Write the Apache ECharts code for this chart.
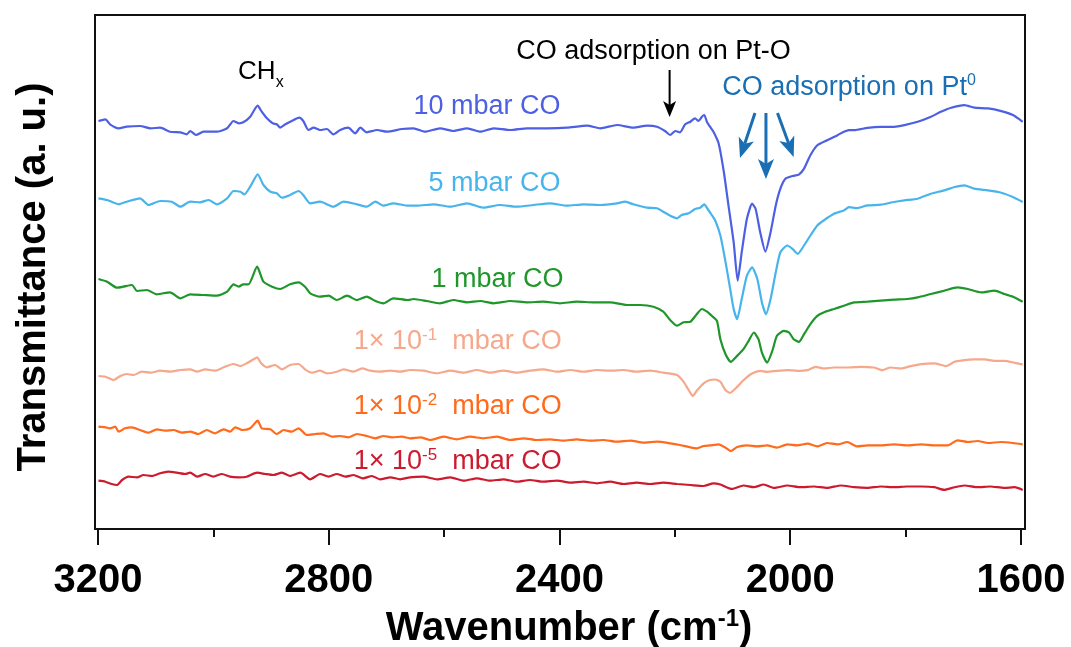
<!DOCTYPE html>
<html>
<head>
<meta charset="utf-8">
<title>CO adsorption IR spectra</title>
<script src="https://cdn.jsdelivr.net/npm/echarts@6/dist/echarts.min.js"></script>
<style>
  html, body { margin: 0; padding: 0; background: #ffffff; }
  #chart { width: 1071px; height: 647px; }
</style>
</head>
<body>
<div id="chart"></div>
<script>
// Spectra: [wavenumber (cm-1), transmittance (a. u., stacked offset)]
const co10mbar = [[3199,408],[3187,409.7],[3179,404.7],[3164,400.7],[3150,402.3],[3127,403],[3109,400.7],[3092,401.3],[3075,397.3],[3057,396.7],[3046,394.7],[3040,398],[3030,394],[3017,397.3],[2994,397.3],[2976,400.7],[2965,408],[2956,405.7],[2948,406.7],[2936,412.3],[2923,423.3],[2916,417.3],[2907,410.7],[2897,405.7],[2890,404.7],[2884,401.3],[2875,404.7],[2864,408],[2851,411.3],[2844,408],[2835,399],[2826,401.3],[2815,399],[2803,400],[2792,394.7],[2780,399],[2766,401.3],[2754,395.7],[2745,401.3],[2734,396.7],[2716,399],[2699,397.3],[2673,400],[2653,400.7],[2633,397.3],[2607,400.7],[2584,398],[2560,400.7],[2537,397.3],[2514,400.7],[2485,399],[2456,400.7],[2422,400.7],[2387,401.3],[2352,403.3],[2329,400.7],[2300,404],[2272,401.3],[2248,403.3],[2231,402.3],[2217,398],[2208,394],[2199,398],[2191,396.7],[2182,404.7],[2173,407.3],[2165,410.7],[2159,408],[2153,412.3],[2149,414],[2144,406.7],[2139,402.3],[2133,397.2],[2124,385.5],[2115,357],[2107,323.6],[2098,286.8],[2091,248.4],[2084,276.8],[2075,310.2],[2066,325.3],[2060,320.3],[2052,296.8],[2043,277.4],[2034,296.8],[2025,323.6],[2017,340.3],[2008,350.4],[1996,353],[1985,354.4],[1976,360.4],[1965,373.8],[1953,383.8],[1936,388.8],[1918,393.8],[1907,397.2],[1898,398.8],[1889,398.8],[1866,401.2],[1843,402.2],[1820,402.2],[1802,403.9],[1779,407.2],[1756,412.2],[1739,417.2],[1721,421.3],[1698,423.9],[1681,421.3],[1657,420.6],[1634,417.9],[1614,413.9],[1597,407.2]];

const co5mbar = [[3199,330.7],[3184,329],[3164,324.7],[3150,327.3],[3127,330.7],[3112,324],[3092,328],[3072,327.3],[3057,322.3],[3040,327.3],[3023,326.7],[3008,329],[2994,324.7],[2976,330.7],[2965,338],[2953,337.3],[2946,334.7],[2936,342.3],[2923,354.7],[2913,344],[2901,337.3],[2890,335.7],[2881,331.3],[2867,334],[2852,338],[2844,334],[2832,325.7],[2815,327.3],[2792,322.3],[2774,327.3],[2751,324.7],[2734,322.3],[2719,327.3],[2705,323.3],[2688,325.7],[2662,323.3],[2647,323.3],[2618,324.7],[2589,322.3],[2560,325.7],[2532,321.3],[2503,324],[2474,322.3],[2445,324],[2416,325.7],[2387,323.3],[2358,324.7],[2329,324],[2300,325.7],[2286,327.3],[2272,324.7],[2248,321.3],[2231,320.7],[2220,317.3],[2208,313.3],[2196,310.7],[2188,314],[2176,315.7],[2165,320],[2156,321.3],[2149,324.7],[2143,320],[2136,314],[2130,308.5],[2121,293.5],[2112,266.7],[2104,240],[2098,220],[2092,209.9],[2084,230],[2075,253.4],[2066,261.7],[2057,250],[2049,226.6],[2042,214.9],[2034,230],[2025,256.7],[2017,276.8],[2005,283.5],[1996,280.1],[1987,275.1],[1976,283.5],[1965,293.5],[1953,303.5],[1942,308.5],[1924,315.2],[1907,318.6],[1898,321.9],[1884,320.9],[1866,323.6],[1843,324.3],[1820,327],[1802,328.6],[1779,330.3],[1756,335.3],[1733,338.6],[1715,342],[1698,343.7],[1681,340.3],[1657,338.6],[1634,336.3],[1614,332],[1597,327]];

const co1mbar = [[3199,250],[3184,247.3],[3167,241.3],[3156,242.3],[3141,244],[3132,238],[3115,239],[3098,234.7],[3075,236.7],[3057,230.7],[3040,234.7],[3017,234],[2994,233.3],[2976,237.3],[2965,244.7],[2956,242.3],[2948,244.7],[2939,244.7],[2924,262.3],[2913,247.3],[2898,242.3],[2884,240],[2867,244.7],[2852,246.7],[2841,242.3],[2832,235.7],[2815,232.3],[2800,233.3],[2786,229],[2768,233.3],[2751,229],[2734,232.3],[2719,228],[2705,225.7],[2688,230.7],[2662,229],[2653,230],[2630,228],[2607,225.7],[2584,229],[2560,226.7],[2537,228],[2514,225.7],[2485,228],[2456,226.7],[2428,227.3],[2399,225.7],[2370,227.3],[2341,226.7],[2312,226.7],[2283,224],[2260,224],[2237,222.3],[2220,217.3],[2208,209],[2196,203.3],[2185,206.7],[2173,207.3],[2163,214],[2153,220],[2144,217.3],[2136,213.2],[2127,208.2],[2121,189.8],[2112,174.8],[2103,167.1],[2092,173.1],[2081,179.8],[2072,188.2],[2063,196.5],[2055,189.8],[2049,176.4],[2040,166.4],[2031,178.1],[2023,193.2],[2011,198.2],[2002,196.5],[1994,189.8],[1985,187.1],[1976,194.8],[1965,204.9],[1953,213.2],[1942,216.6],[1924,220],[1907,223.3],[1889,226.6],[1866,227.3],[1843,228.3],[1820,229.3],[1797,230],[1779,231.6],[1756,235],[1733,238.3],[1710,241.6],[1692,240],[1669,236.6],[1646,238.3],[1629,235],[1611,231.6],[1597,227.3]];

const co1e1mbar = [[3199,153],[3187,152.3],[3173,149],[3161,153],[3150,155],[3138,154],[3124,157.3],[3109,156.3],[3092,158.3],[3075,157.3],[3057,159],[3040,159.7],[3028,157.3],[3014,159.7],[2997,158.3],[2982,161.7],[2965,165],[2953,163],[2942,165.7],[2930,169.7],[2924,171.7],[2917,165.7],[2907,161.7],[2893,164],[2881,159.7],[2867,164],[2852,165],[2841,159.7],[2829,156.3],[2815,158.3],[2803,155.7],[2786,157.3],[2774,159.7],[2757,157.3],[2742,160.7],[2728,158.3],[2711,157.3],[2693,158.3],[2676,157.3],[2659,159],[2636,158.3],[2612,155.7],[2589,158.3],[2566,156.3],[2543,159],[2520,156.3],[2497,158.3],[2474,156.3],[2451,158.3],[2428,159.7],[2404,157.3],[2381,159],[2358,157.3],[2335,159],[2312,158.3],[2289,159],[2266,157.3],[2243,158.3],[2220,156.3],[2196,154],[2185,147.3],[2176,139],[2169,133],[2161,139],[2150,145.7],[2139,149],[2130,149.5],[2121,147.2],[2112,138.8],[2104,136.1],[2092,142.1],[2081,148.8],[2066,155.5],[2052,158.2],[2040,157.2],[2023,158.2],[2005,158.9],[1988,158.2],[1970,158.9],[1956,162.2],[1942,160.5],[1924,161.5],[1901,161.5],[1878,162.2],[1855,161.5],[1840,158.9],[1826,161.5],[1808,160.5],[1791,162.9],[1773,164.9],[1750,165.6],[1730,162.9],[1715,167.2],[1698,168.9],[1681,169.6],[1663,169.6],[1646,168.2],[1629,168.2],[1611,166.2],[1597,164.6]];

const co1e2mbar = [[3199,102.3],[3187,101.7],[3179,100.7],[3170,102.3],[3164,97.3],[3153,100.7],[3141,101.7],[3127,99],[3112,96.3],[3098,99.7],[3083,98.3],[3069,99],[3054,96.3],[3040,97.3],[3026,95],[3011,99],[2997,95.7],[2982,99.7],[2971,97.3],[2962,101.7],[2950,99],[2936,100.7],[2923,108.3],[2916,100.7],[2901,99.7],[2890,95],[2878,99],[2864,97.3],[2852,100.7],[2838,94],[2823,95],[2809,95.7],[2794,92.3],[2780,93],[2766,91.7],[2751,95],[2734,93],[2719,90.7],[2705,93],[2690,91.7],[2673,92.3],[2659,90.7],[2641,91.7],[2624,89],[2601,92.3],[2578,89.7],[2555,92.3],[2532,90.7],[2508,92.3],[2485,89],[2462,90.7],[2439,89],[2416,89.7],[2393,88.3],[2370,89.7],[2347,88.3],[2324,89],[2300,87.3],[2277,88.3],[2254,86.3],[2231,87.3],[2208,85.7],[2191,84],[2173,81.7],[2162,80.7],[2150,83],[2139,83.6],[2124,84.6],[2112,81.3],[2103,77.9],[2092,82],[2075,83.6],[2057,82.6],[2040,83.6],[2023,81.3],[2005,84.6],[1988,83.6],[1970,85.3],[1953,82.6],[1936,86],[1918,84.6],[1901,87],[1884,82.6],[1866,83.6],[1843,83.6],[1820,84.6],[1797,83.6],[1773,84.6],[1750,83.6],[1727,83.6],[1710,88.6],[1692,87],[1675,88],[1657,86],[1634,87],[1614,86],[1597,84.6]];

const co1e5mbar = [[3199,48.3],[3187,47.3],[3176,45],[3167,44],[3158,49],[3147,52.3],[3132,51.7],[3121,54],[3106,53],[3092,55.7],[3078,57.3],[3063,56.3],[3049,55],[3040,56.3],[3028,52.3],[3014,55],[3000,52.3],[2985,55],[2971,52.3],[2956,51.7],[2942,52.3],[2924,56.3],[2910,55],[2896,54],[2881,56.3],[2867,53],[2849,56.3],[2832,49.7],[2815,55],[2800,52.3],[2786,55],[2771,52.3],[2757,54],[2740,50.7],[2725,53],[2711,49.7],[2693,51.7],[2676,49.7],[2659,51.7],[2636,52.3],[2612,49.7],[2589,51.7],[2566,48.3],[2543,50.7],[2520,48.3],[2497,49.7],[2474,47.3],[2451,49],[2428,47.3],[2404,48.3],[2381,46.3],[2358,47.3],[2335,45.7],[2312,47.3],[2289,45],[2266,46.3],[2243,45],[2220,46.3],[2196,45],[2173,44],[2150,43],[2133,45.7],[2121,44.5],[2101,40.1],[2081,43.5],[2063,41.8],[2046,44.5],[2028,41.1],[2005,43.5],[1982,41.8],[1959,42.5],[1936,41.1],[1912,43.5],[1889,41.8],[1866,41.1],[1843,42.5],[1820,41.8],[1797,42.5],[1773,42.5],[1750,41.8],[1733,39.1],[1715,41.8],[1698,43.5],[1675,41.8],[1653,42.5],[1629,41.1],[1611,41.8],[1597,39.1]];

// Axis tick values
const majorTicks = [1600, 2000, 2400, 2800, 3200];
const minorTicks = [1800, 2200, 2600, 3000];

const FONT = '"Liberation Sans", Arial, Helvetica, sans-serif';
const INK = '#111111';

const curves = [
  { name: '10 mbar CO',     data: co10mbar,  color: '#4d5fe2', label: '10 mbar CO',                  at: [2398, 422] },
  { name: '5 mbar CO',      data: co5mbar,   color: '#48b4ec', label: '5 mbar CO',                   at: [2398, 345] },
  { name: '1 mbar CO',      data: co1mbar,   color: '#1f962a', label: '1 mbar CO',                   at: [2393, 249] },
  { name: '1e-1 mbar CO',   data: co1e1mbar, color: '#f5a88c', label: '1× 10{sup|-1}  mbar CO',      at: [2396, 187] },
  { name: '1e-2 mbar CO',   data: co1e2mbar, color: '#ff6a1c', label: '1× 10{sup|-2}  mbar CO',      at: [2396, 122] },
  { name: '1e-5 mbar CO',   data: co1e5mbar, color: '#cc1a2e', label: '1× 10{sup|-5}  mbar CO',      at: [2396, 67] }
];

const chart = echarts.init(document.getElementById('chart'), null, { renderer: 'canvas' });

const option = {
  animation: false,
  backgroundColor: '#ffffff',
  grid: {
    left: 95, right: 46, top: 15, bottom: 118,
    show: true, borderColor: INK, borderWidth: 2, backgroundColor: 'transparent'
  },
  xAxis: [
    {
      type: 'value', inverse: true, min: 1593, max: 3205, position: 'bottom',
      axisLine: { show: false },
      splitLine: { show: false },
      axisTick: { show: true, inside: false, length: 16, customValues: majorTicks,
                  lineStyle: { color: INK, width: 2 } },
      axisLabel: { show: true, customValues: majorTicks, margin: 32,
                   fontFamily: FONT, fontWeight: 'bold', fontSize: 40, color: '#000',
                   formatter: v => String(v) }
    },
    {
      type: 'value', inverse: true, min: 1593, max: 3205, position: 'bottom',
      axisLine: { show: false },
      splitLine: { show: false },
      axisLabel: { show: false },
      axisTick: { show: true, inside: false, length: 8, customValues: minorTicks,
                  lineStyle: { color: INK, width: 2 } }
    }
  ],
  yAxis: {
    type: 'value', min: 0, max: 514,
    axisLine: { show: false }, axisTick: { show: false },
    axisLabel: { show: false }, splitLine: { show: false }
  },
  series: curves.map(c => ({
    name: c.name,
    type: 'line',
    data: c.data,
    showSymbol: false,
    symbol: 'none',
    smooth: 0.2,
    lineStyle: { color: c.color, width: 2.2 },
    itemStyle: { color: c.color },
    z: 2
  }))
};

chart.setOption(option);

const toPx = (w, v) => chart.convertToPixel({ seriesIndex: 0 }, [w, v]);

const supStyle = (size, color, bold) => ({
  fontSize: size, lineHeight: size, verticalAlign: 'top',
  fontFamily: FONT, fontWeight: bold ? 'bold' : 'normal', fill: color
});

const textEl = (w, v, text, opts) => {
  const p = toPx(w, v);
  return {
    type: 'text', x: p[0], y: p[1], z: 10,
    style: Object.assign({
      text, fontFamily: FONT, fontSize: 27, lineHeight: 30,
      align: 'left', verticalAlign: 'middle', fill: '#000'
    }, opts)
  };
};

// arrow drawn from (w0,v0) to tip (w1,v1)
const arrowEls = (w0, v0, w1, v1, color, lineW, headL, headW) => {
  const a = toPx(w0, v0), b = toPx(w1, v1);
  const dx = b[0] - a[0], dy = b[1] - a[1];
  const len = Math.hypot(dx, dy);
  const ux = dx / len, uy = dy / len, px = -uy, py = ux;
  const notch = headL * 0.25;
  const back = [b[0] - ux * headL, b[1] - uy * headL];
  const inner = [b[0] - ux * (headL - notch), b[1] - uy * (headL - notch)];
  return [
    { type: 'line', z: 10,
      shape: { x1: a[0], y1: a[1], x2: inner[0], y2: inner[1] },
      style: { stroke: color, lineWidth: lineW } },
    { type: 'polygon', z: 10,
      shape: { points: [b, [back[0] + px * headW / 2, back[1] + py * headW / 2], inner,
                        [back[0] - px * headW / 2, back[1] - py * headW / 2]] },
      style: { fill: color } }
  ];
};

const PT0 = '#1a6fb4';
const graphics = [];

curves.forEach(c => {
  graphics.push(textEl(c.at[0], c.at[1], c.label, {
    fill: c.color, align: 'right',
    rich: { sup: supStyle(17, c.color, false) }
  }));
});

graphics.push(textEl(2957, 457, 'CH{sub|x}', {
  fontSize: 26, lineHeight: 38, align: 'left',
  rich: { sub: { fontSize: 16, lineHeight: 16, verticalAlign: 'bottom', fontFamily: FONT, fill: '#000' } }
}));
graphics.push(textEl(2237, 477, 'CO adsorption on Pt-O', { align: 'center' }));
graphics.push(textEl(1898, 441, 'CO adsorption on Pt{sup|0}', {
  align: 'center', fill: PT0, rich: { sup: supStyle(16, PT0, false) }
}));

graphics.push(...arrowEls(2209, 459, 2209, 412, '#000', 2, 16, 13));
graphics.push(...arrowEls(2061, 416, 2087, 371, PT0, 3, 20, 16));
graphics.push(...arrowEls(2042, 416, 2042, 350, PT0, 3, 20, 16));
graphics.push(...arrowEls(2022, 416, 1994, 372, PT0, 3, 20, 16));

// axis titles
graphics.push({
  type: 'text', x: 569, y: 629, z: 10,
  style: {
    text: 'Wavenumber (cm{sup|-1})', fontFamily: FONT, fontWeight: 'bold', fontSize: 40,
    lineHeight: 44, align: 'center', verticalAlign: 'middle', fill: '#000',
    rich: { sup: supStyle(24, '#000', true) }
  }
});
graphics.push({
  type: 'text', x: 34, y: 277, rotation: Math.PI / 2, z: 10,
  style: {
    text: 'Transmittance (a. u.)', fontFamily: FONT, fontWeight: 'bold', fontSize: 40,
    align: 'center', verticalAlign: 'middle', fill: '#000'
  }
});

chart.setOption({ graphic: graphics });
</script>
</body>
</html>
